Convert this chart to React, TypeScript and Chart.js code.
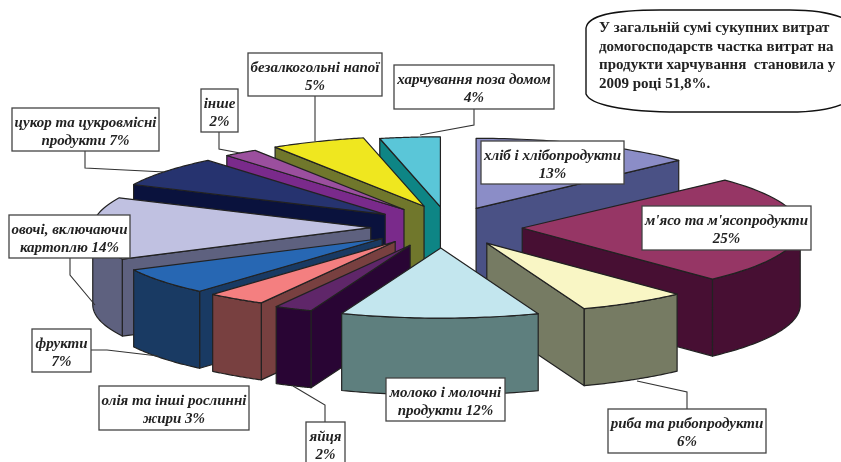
import React, { useEffect, useRef } from "react";
import { Chart, registerables } from "chart.js";

Chart.register(...registerables);

const categories = [
  "хліб і хлібопродукти", "м'ясо та м'ясопродукти", "риба та рибопродукти",
  "молоко і молочні продукти", "яйця", "олія та інші рослинні жири", "фрукти",
  "овочі, включаючи картоплю", "цукор та цукровмісні продукти", "інше",
  "безалкогольні напої", "харчування поза домом",
];
const values = [13, 25, 6.3, 11.5, 2.2, 3.4, 6.2, 14.4, 7, 2, 5.5, 3.5];
const topColors = ["#8B8DC7", "#963665", "#F9F6C5", "#C3E6EE", "#5F2669", "#F47F80", "#2767B3", "#C0C1E1", "#26336F", "#9B4F9E", "#EFE71F", "#5AC6D8"];
const wallColors = ["#4A5185", "#470F33", "#767B63", "#5E7F7E", "#290534", "#784040", "#193A63", "#5E617F", "#0A123D", "#7A2A8B", "#70772C", "#0E8585"];
const explode = [57, 57, 57, 57, 57, 57, 57, 57, 57, 57, 57, 57];
const leanX = [4, 3, 4.5, 0, 2, -1, 3, 8, 6, 9, 13, 8];
const leanY = [-2, -1, -2, 0, -1, -3, -2, -1, -2, -3, -4, -2];

const labelBoxes: [string, string, number, number, number, number][] = [
  ["безалкогольні напої", "5%", 248, 53, 382, 96],
  ["харчування поза домом", "4%", 394, 65, 554, 109],
  ["інше", "2%", 201, 89, 238, 132],
  ["цукор та цукровмісні", "продукти 7%", 12, 108, 159, 151],
  ["овочі, включаючи", "картоплю 14%", 9, 215, 130, 258],
  ["фрукти", "7%", 32, 329, 91, 372],
  ["олія та інші рослинні", "жири 3%", 99, 386, 249, 430],
  ["яйця", "2%", 306, 422, 345, 466],
  ["молоко і молочні", "продукти 12%", 386, 378, 505, 421],
  ["риба та рибопродукти", "6%", 608, 409, 766, 453],
  ["хліб і хлібопродукти", "13%", 481, 141, 624, 184],
  ["м'ясо та м'ясопродукти", "25%", 642, 206, 811, 250],
];
const leaders: number[][] = [
  [315, 96, 315, 141],
  [474, 109, 474, 125, 420, 135],
  [219, 132, 219, 149, 240, 153],
  [85, 151, 85, 168, 165, 172],
  [70, 258, 70, 275, 95, 305],
  [91, 350, 107, 350, 158, 356],
  [293, 386, 325, 405, 325, 422],
  [687, 409, 687, 392, 637, 381],
];
const noteLines = [
  "У загальній сумі сукупних витрат",
  "домогосподарств частка витрат на",
  "продукти харчування  становила у",
  "2009 році 51,8%.",
];

const CX = 441, CY = 228.4, SX = 278, SY = 70, DEPTH = 77;

const pie3d = {
  id: "pie3d",
  beforeDatasetsDraw(chart: any) {
    const ctx: CanvasRenderingContext2D = chart.ctx;
    const arcs = chart.getDatasetMeta(0).data as any[];
    const slices = arcs.map((arc, i) => {
      const p = arc.getProps(["x", "y", "startAngle", "endAngle", "outerRadius"], true);
      const R = p.outerRadius;
      const off = arc.options.offset || 0;
      const mid = (p.startAngle + p.endAngle) / 2;
      const kx = SX / R, ky = SY / R;
      const ax = CX + Math.cos(mid) * off * kx + leanX[i];
      const ay = CY + Math.sin(mid) * off * ky + leanY[i];
      const at = (a: number) => [ax + Math.cos(a) * SX, ay + Math.sin(a) * SY];
      return { i, a0: p.startAngle, a1: p.endAngle, mid, ax, ay, at };
    });
    slices.sort((s, t) => Math.sin(s.mid) - Math.sin(t.mid));
    ctx.save();
    ctx.lineWidth = 1.2;
    ctx.strokeStyle = "#222";
    ctx.lineJoin = "round";
    const finish = (fill: string) => {
      ctx.closePath();
      ctx.fillStyle = fill;
      ctx.fill();
      ctx.stroke();
    };
    const face = (x0: number, y0: number, x1: number, y1: number, fill: string) => {
      ctx.beginPath();
      ctx.moveTo(x0, y0);
      ctx.lineTo(x1, y1);
      ctx.lineTo(x1, y1 + DEPTH);
      ctx.lineTo(x0, y0 + DEPTH);
      finish(fill);
    };
    for (const s of slices) {
      const wall = wallColors[s.i], top = topColors[s.i];
      const [x0, y0] = s.at(s.a0);
      const [x1, y1] = s.at(s.a1);
      if (x0 < s.ax - 0.5) face(s.ax, s.ay, x0, y0, wall);
      if (x1 > s.ax + 0.5) face(s.ax, s.ay, x1, y1, wall);
      // outer wall: only the part of the rim that faces the viewer
      const from = Math.max(s.a0, 0);
      const to = Math.min(s.a1, Math.PI);
      if (to > from) {
        ctx.beginPath();
        for (let k = 0; k <= 40; k++) {
          const [x, y] = s.at(from + ((to - from) * k) / 40);
          k ? ctx.lineTo(x, y) : ctx.moveTo(x, y);
        }
        for (let k = 40; k >= 0; k--) {
          const [x, y] = s.at(from + ((to - from) * k) / 40);
          ctx.lineTo(x, y + DEPTH);
        }
        finish(wall);
      }
      ctx.beginPath();
      ctx.moveTo(s.ax, s.ay);
      for (let k = 0; k <= 40; k++) {
        const [x, y] = s.at(s.a0 + ((s.a1 - s.a0) * k) / 40);
        ctx.lineTo(x, y);
      }
      finish(top);
    }
    ctx.restore();
    return false;
  },
  afterDraw(chart: any) {
    const ctx: CanvasRenderingContext2D = chart.ctx;
    ctx.save();
    // leader lines
    ctx.strokeStyle = "#333";
    ctx.lineWidth = 1.1;
    for (const l of leaders) {
      ctx.beginPath();
      ctx.moveTo(l[0], l[1]);
      for (let k = 2; k < l.length; k += 2) ctx.lineTo(l[k], l[k + 1]);
      ctx.stroke();
    }
    // label boxes
    ctx.textAlign = "center";
    ctx.textBaseline = "alphabetic";
    ctx.font = "italic bold 15px 'Liberation Serif'";
    for (const [a, b, x0, y0, x1, y1] of labelBoxes) {
      ctx.fillStyle = "#fff";
      ctx.strokeStyle = "#444";
      ctx.lineWidth = 1.3;
      ctx.fillRect(x0, y0, x1 - x0, y1 - y0);
      ctx.strokeRect(x0, y0, x1 - x0, y1 - y0);
      ctx.fillStyle = "#222";
      ctx.fillText(a, (x0 + x1) / 2, y0 + 19);
      ctx.fillText(b, (x0 + x1) / 2, y0 + 37);
    }
    // note callout
    ctx.beginPath();
    ctx.moveTo(845, 19);
    ctx.bezierCurveTo(832, 13, 815, 10, 790, 10);
    ctx.lineTo(660, 10);
    ctx.bezierCurveTo(610, 10, 588, 16, 586, 28);
    ctx.lineTo(586, 94);
    ctx.bezierCurveTo(590, 104, 620, 112, 680, 112);
    ctx.lineTo(790, 112);
    ctx.bezierCurveTo(815, 112, 832, 109, 845, 103);
    ctx.strokeStyle = "#111";
    ctx.lineWidth = 1.4;
    ctx.stroke();
    ctx.fillStyle = "#222";
    ctx.textAlign = "left";
    ctx.font = "bold 15px 'Liberation Serif'";
    noteLines.forEach((t, i) => ctx.fillText(t, 599, 32 + i * 18.5));
    ctx.restore();
  },
};

export default function App() {
  const ref = useRef<HTMLCanvasElement>(null);
  useEffect(() => {
    const chart = new Chart(ref.current as HTMLCanvasElement, {
      type: "pie",
      data: {
        labels: categories,
        datasets: [{ data: values, backgroundColor: topColors, offset: explode, borderWidth: 0 }],
      },
      options: {
        responsive: false,
        animation: false,
        plugins: { legend: { display: false }, tooltip: { enabled: false } },
      },
      plugins: [pie3d],
    } as any);
    return () => chart.destroy();
  }, []);
  return (
    <div style={{ position: "fixed", left: 0, top: 0, width: 841, height: 462, background: "#fff", overflow: "hidden" }}>
      <canvas ref={ref} width={841} height={462} style={{ display: "block" }} />
    </div>
  );
}
